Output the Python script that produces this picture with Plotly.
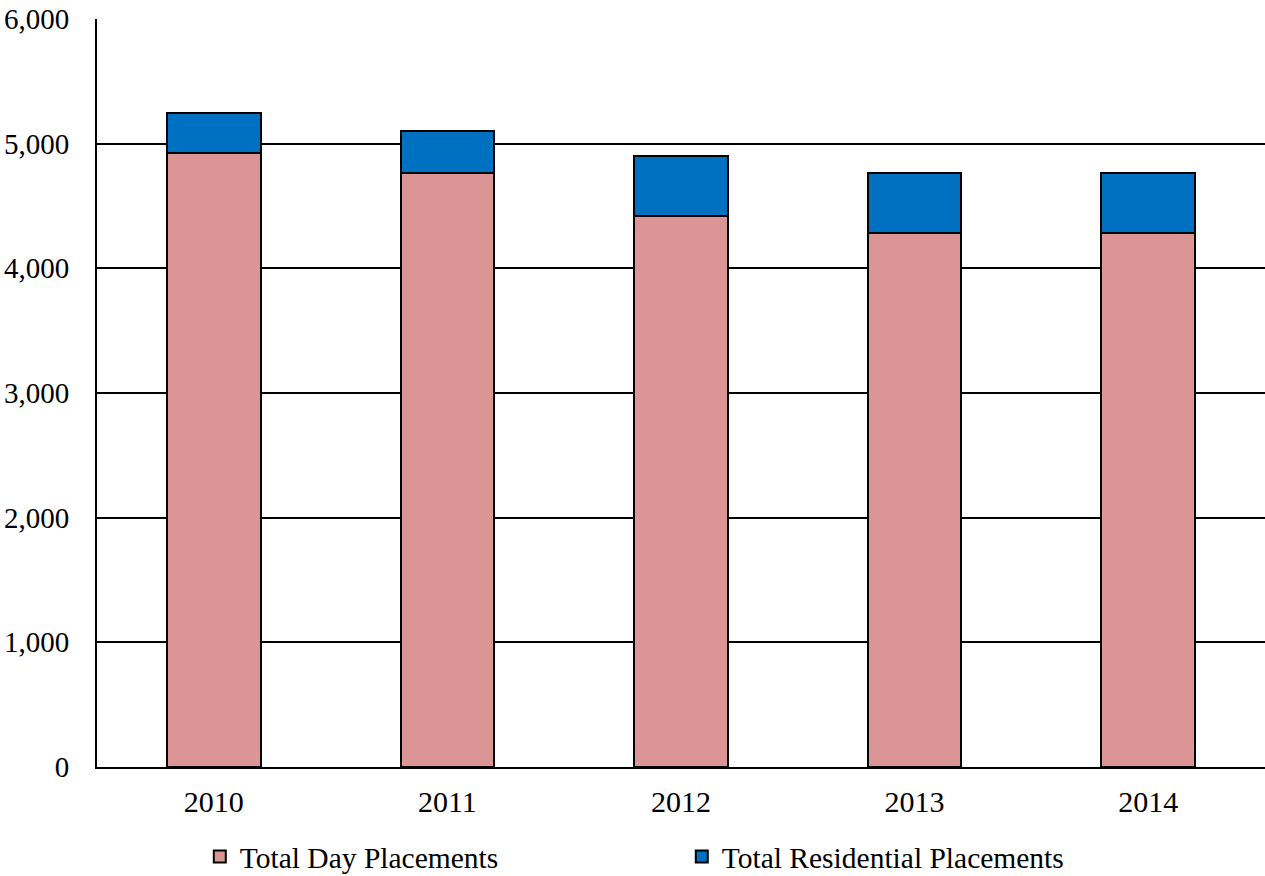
import plotly.graph_objects as go

# Placement counts by year
years = ["2010", "2011", "2012", "2013", "2014"]
day_placements = [4923, 4767, 4420, 4286, 4286]
residential_placements = [321, 335, 481, 481, 476]

y_tick_vals = [0, 1000, 2000, 3000, 4000, 5000, 6000]
y_tick_text = ["0", "1,000", "2,000", "3,000", "4,000", "5,000", "6,000"]

FONT = "Liberation Serif, Times New Roman, serif"

fig = go.Figure()
fig.add_trace(go.Bar(
    x=years, y=day_placements, name="Total Day Placements",
    marker=dict(color="#DA9594", line=dict(color="black", width=2)),
))
fig.add_trace(go.Bar(
    x=years, y=residential_placements, name="Total Residential Placements",
    marker=dict(color="#0070C0", line=dict(color="black", width=2)),
))

fig.update_layout(
    barmode="stack",
    bargap=0.6,
    width=1265, height=876,
    margin=dict(l=97, r=0, t=19, b=109, autoexpand=False),
    paper_bgcolor="white", plot_bgcolor="white",
    font=dict(family=FONT, size=29, color="black"),
    showlegend=True,
    legend=dict(
        orientation="h", x=0.088, xanchor="left", y=-0.12, yanchor="middle",
        entrywidth=437, entrywidthmode="pixels",
        font=dict(family=FONT, size=29.5, color="black"),
        traceorder="normal",
    ),
)
fig.update_xaxes(
    showline=True, linecolor="black", linewidth=2,
    ticks="outside", ticklen=7, tickcolor="rgba(0,0,0,0)",
    tickfont=dict(family=FONT, size=30),
)
fig.update_yaxes(
    range=[0, 6000], tickvals=y_tick_vals, ticktext=y_tick_text,
    showgrid=True, gridcolor="black", gridwidth=1.5,
    showline=True, linecolor="black", linewidth=2,
    ticks="outside", ticklen=20, tickcolor="rgba(0,0,0,0)",
    tickfont=dict(family=FONT, size=29),
    zeroline=False,
)

fig.write_html("out.html")
